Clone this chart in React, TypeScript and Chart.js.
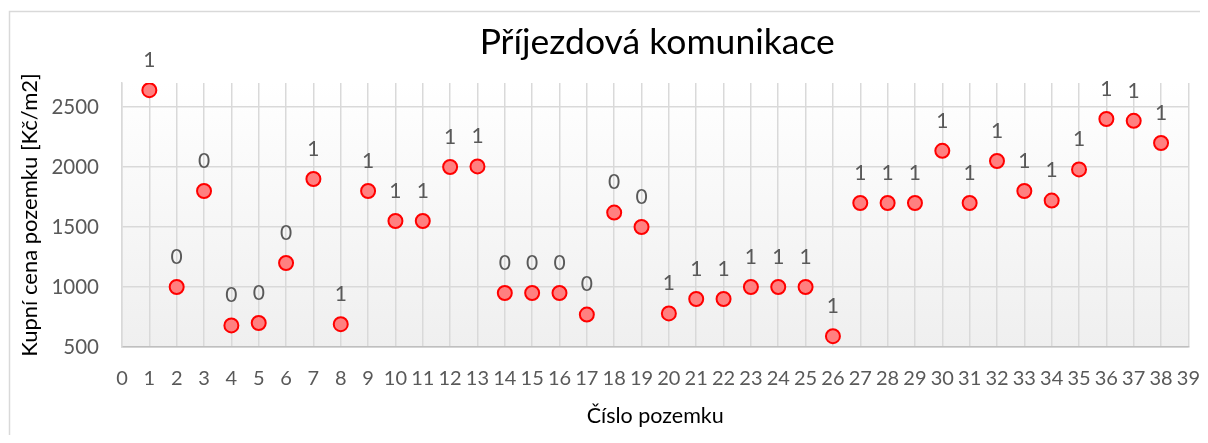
import React, { useEffect, useRef } from "react";
import { Chart, registerables } from "chart.js";

Chart.register(...registerables);

const chartTitle = "Příjezdová komunikace";
const xAxisTitle = "Číslo pozemku";
const yAxisTitle = "Kupní cena pozemku [Kč/m2]";

const plotNumbers = [1, 2, 3, 4, 5, 6, 7, 8, 9, 10, 11, 12, 13, 14, 15, 16, 17, 18, 19, 20, 21, 22, 23, 24, 25, 26, 27, 28, 29, 30, 31, 32, 33, 34, 35, 36, 37, 38];
const prices = [2640, 1000, 1800, 680, 700, 1200, 1900, 690, 1800, 1550, 1550, 2000, 2005, 950, 950, 950, 770, 1620, 1500, 780, 900, 900, 1000, 1000, 1000, 590, 1700, 1700, 1700, 2135, 1700, 2050, 1800, 1720, 1980, 2400, 2385, 2200];
const accessFlags = [1, 0, 0, 0, 0, 0, 1, 1, 1, 1, 1, 1, 1, 0, 0, 0, 0, 0, 0, 1, 1, 1, 1, 1, 1, 1, 1, 1, 1, 1, 1, 1, 1, 1, 1, 1, 1, 1];

const xMin = 0;
const xMax = 39;
const yMin = 500;
const yMax = 2700;
const yTickValues = [500, 1000, 1500, 2000, 2500];

const FONT = "Lato";

export default function App() {
  const ref = useRef<HTMLCanvasElement>(null);

  useEffect(() => {
    if (!ref.current) return;
    document.documentElement.style.overflow = "hidden";
    document.body.style.overflow = "hidden";

    const framePlugin = {
      id: "frame",
      beforeDraw(chart: any) {
        const { ctx, chartArea } = chart;
        ctx.save();
        ctx.strokeStyle = "#d9d9d9";
        ctx.lineWidth = 1.5;
        ctx.beginPath();
        ctx.moveTo(1.5, chart.height);
        ctx.lineTo(1.5, 3.5);
        ctx.lineTo(chart.width, 3.5);
        ctx.stroke();
        const g = ctx.createLinearGradient(0, chartArea.top, 0, chartArea.bottom);
        g.addColorStop(0, "#ffffff");
        g.addColorStop(1, "#efefef");
        ctx.fillStyle = g;
        ctx.fillRect(chartArea.left, chartArea.top, chartArea.right - chartArea.left, chartArea.bottom - chartArea.top);
        ctx.fillStyle = "#000000";
        ctx.font = `35.5px ${FONT}`;
        ctx.textAlign = "center";
        ctx.textBaseline = "middle";
        ctx.fillText(chartTitle, (chartArea.left + chartArea.right) / 2 + 2, 35);
        ctx.restore();
      },
    };

    const labelPlugin = {
      id: "pointLabels",
      afterDatasetsDraw(chart: any) {
        const { ctx } = chart;
        const meta = chart.getDatasetMeta(0);
        ctx.save();
        ctx.fillStyle = "#595959";
        ctx.font = `21px ${FONT}`;
        ctx.textAlign = "center";
        ctx.textBaseline = "middle";
        meta.data.forEach((pt: any, i: number) => {
          ctx.fillText(String(accessFlags[i]), pt.x, pt.y - 30);
        });
        ctx.restore();
      },
    };

    const chart = new Chart(ref.current, {
      type: "scatter",
      data: {
        datasets: [
          {
            data: plotNumbers.map((x, i) => ({ x, y: prices[i] })),
            backgroundColor: "#ff8080",
            borderColor: "#ff0000",
            borderWidth: 2,
            pointRadius: 7,
            pointHoverRadius: 7,
          },
        ],
      },
      options: {
        animation: false,
        responsive: false,
        maintainAspectRatio: false,
        layout: { padding: { top: 75, right: 31, left: 0, bottom: 0 } },
        plugins: {
          legend: { display: false },
          tooltip: { enabled: false },
          title: { display: false },
        },
        scales: {
          x: {
            type: "linear",
            min: xMin,
            max: xMax,
            afterFit: (s: any) => {
              s.height = 88;
            },
            ticks: {
              stepSize: 1,
              autoSkip: false,
              maxRotation: 0,
              minRotation: 0,
              padding: 20,
              color: "#595959",
              font: { family: FONT, size: 20 },
              callback: (v: any) => String(v),
            },
            grid: { color: "#d9d9d9", lineWidth: 1.5, drawTicks: false },
            border: { color: "#bfbfbf", width: 1.5 },
            title: {
              display: true,
              text: xAxisTitle,
              color: "#000000",
              font: { family: FONT, size: 21.5, lineHeight: 1 },
              padding: { top: 0, bottom: 8 },
            },
          },
          y: {
            type: "linear",
            min: yMin,
            max: yMax,
            afterFit: (s: any) => {
              s.width = 114;
            },
            afterBuildTicks: (s: any) => {
              s.ticks = yTickValues.map((v) => ({ value: v }));
            },
            ticks: {
              padding: 23,
              color: "#595959",
              font: { family: FONT, size: 20.5 },
              callback: (v: any) => String(v),
            },
            grid: { color: "#d9d9d9", lineWidth: 1.5, drawTicks: false },
            border: { color: "#d9d9d9", width: 1.5 },
            title: {
              display: true,
              text: yAxisTitle,
              color: "#000000",
              font: { family: FONT, size: 22, lineHeight: 1 },
              padding: { top: 11, bottom: 0 },
            },
          },
        },
      },
      plugins: [framePlugin, labelPlugin],
    });

    return () => chart.destroy();
  }, []);

  return (
    <div style={{ width: 1200, height: 427, overflow: "hidden" }}>
      <canvas ref={ref} width={1212} height={427} style={{ display: "block" }} />
    </div>
  );
}
